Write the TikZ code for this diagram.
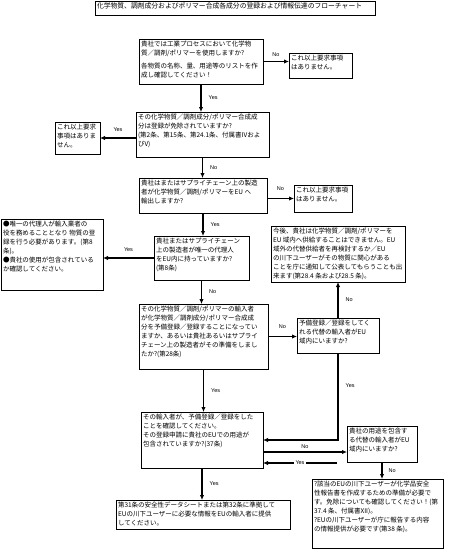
\documentclass[tikz,border=0pt]{standalone}
\usepackage{fontspec}
\newfontfamily\jpfont{Noto Sans CJK JP}
\newfontfamily\labfont{Liberation Sans}
\usetikzlibrary{arrows.meta,shadows}
\newcommand{\boxlines}[3]{\parbox[c][\dimexpr#2-4pt\relax][t]{\dimexpr#1-4pt\relax}{\raggedright#3}}

\begin{document}
\begin{tikzpicture}[x=1pt,y=-1pt,
  qbox/.style={draw,line width=0.7pt,fill=white,inner sep=2pt,outer sep=0pt,anchor=north west,
    font=\jpfont\fontsize{6.5}{9}\selectfont,
    drop shadow={shadow xshift=1pt,shadow yshift=-1pt,opacity=.5}},
  arr/.style={line width=1.3pt,-{Latex[length=5pt,width=4.5pt]}},
  lbl/.style={font=\labfont\fontsize{5.5}{6}\selectfont,inner sep=1pt}]
\useasboundingbox (0,0) rectangle (450,550);

\node[qbox,font=\jpfont\fontsize{6.8}{8}\selectfont] (title) at (95,1)
  {\boxlines{280pt}{14pt}{化学物質、調剤成分およびポリマー合成各成分の登録および情報伝達のフローチャート}};

% main column
\node[qbox] (q1) at (139,39) {\boxlines{124pt}{45pt}{貴社では工業プロセスにおいて化学物\\
  質／調剤/ポリマーを使用しますか?\\[4pt]
  各物質の名称、量、用途等のリストを作\\成し確認してください！}};
\node[qbox] (q2) at (136,112) {\boxlines{133pt}{45pt}{その化学物質／調剤成分/ポリマー合成成\\
  分は登録が免除されていますか?\\(第2条、第15条、第24.1条、付属書IVおよ\\びV)}};
\node[qbox] (q3) at (139,178) {\boxlines{128pt}{35pt}{貴社はまたはサプライチェーン上の製造\\
  者が化学物質／調剤/ポリマーをEU へ\\輸出しますか?}};
\node[qbox] (q4) at (154,236) {\boxlines{95pt}{44pt}{貴社またはサプライチェーン\\
  上の製造者が唯一の代理人\\をEU内に持っていますか?\\(第8条)}};
\node[qbox] (q5) at (139,304) {\boxlines{129pt}{65pt}{その化学物質／調剤/ポリマーの輸入者\\
  が化学物質／調剤成分/ポリマー合成成\\分を予備登録／登録することになってい\\
  ますか、あるいは貴社あるいはサプライ\\チェーン上の製造者がその準備をしまし\\たか?(第28条)}};
\node[qbox] (q7) at (141,412) {\boxlines{122pt}{56pt}{その輸入者が、予備登録／登録をした\\
  ことを確認してください。\\その登録申請に貴社のEUでの用途が\\包含されていますか?(37条)}};
\node[qbox] (q9) at (116,500) {\boxlines{174pt}{29pt}{第31条の安全性データシートまたは第32条に準拠して\\
  EUの川下ユーザーに必要な情報をEUの輸入者に提供\\してください。}};

% side boxes
\node[qbox] (n1) at (289,53) {\boxlines{63pt}{25pt}{これ以上要求事項\\はありません。}};
\node[qbox] (n2) at (55,122) {\boxlines{45pt}{32pt}{これ以上要求\\事項はありま\\せん。}};
\node[qbox] (n3) at (294,185) {\boxlines{58pt}{27pt}{これ以上要求事項\\はありません。}};
\node[qbox] (l4) at (1,219) {\boxlines{102pt}{71pt}{●唯一の代理人が輸入業者の\\
  役を務めることとなり 物質の登\\録を行う必要があります。(第8\\条)。\\
  ●貴社の使用が包含されている\\か確認してください。}};
\node[qbox] (r4) at (271,226) {\boxlines{134pt}{56pt}{今後、貴社は化学物質／調剤/ポリマーを\\
  EU 域内へ供給することはできません。EU\\域外の代替供給者を再検討するか／EU\\
  の川下ユーザーがその物質に関心がある\\ことを庁に通知して公表してもらうことも出\\
  来ます(第28.4 条および28.5 条)。}};
\node[qbox] (q6) at (297,318) {\boxlines{82pt}{35pt}{予備登録／登録をしてく\\
  れる代替の輸入者がEU\\域内にいますか?}};
\node[qbox] (q8) at (347,426) {\boxlines{70pt}{36pt}{貴社の用途を包含す\\
  る代替の輸入者がEU\\域内にいますか?}};
\node[qbox] (q10) at (312,479) {\boxlines{131pt}{69pt}{?該当のEUの川下ユーザーが化学品安全\\
  性報告書を作成するための準備が必要で\\す。免除についても確認してください！(第\\
  37.4 条、付属書XII)。\\?EUの川下ユーザーが庁に報告する内容\\の情報提供が必要です(第38 条)。}};

% connectors
\draw[arr] (q1.east) -- (q1.east -| n1.west) node[lbl,midway,above=3pt]{No};
\draw[arr] (q1.south) -- (q1.south |- q2.north) node[lbl,midway,right=6pt]{Yes};
\draw[arr] (q2.west |- n2.east) -- (n2.east) node[lbl,midway,above=5pt]{Yes};
\draw[arr] (q2.south) -- (q2.south |- q3.north) node[lbl,midway,right=6pt]{No};
\draw[arr] (q3.east |- n3.west) -- (n3.west) node[lbl,midway,above=6pt]{No};
\draw[arr] (q3.south) -- (q3.south |- q4.north) node[lbl,midway,right=6pt]{Yes};
\draw[arr] (q4.west) -- (q4.west -| l4.east) node[lbl,midway,above=5pt]{Yes};
\draw[arr] (q4.south) -- (q4.south |- q5.north) node[lbl,midway,right=6pt]{No};
\draw[arr] (q5.east) -- (q5.east -| q6.west) node[lbl,midway,above=6pt]{No};
\draw[arr] (q6.north) -- (q6.north |- r4.south) node[lbl,midway,right=6pt]{No};
\draw[arr] (q6.south) |- (q7.east) node[lbl,pos=0.19,right=6pt]{Yes};
\draw[arr] (q5.south) -- (q5.south |- q7.north) node[lbl,midway,right=6pt]{Yes};
\draw[arr] ([yshift=-12pt]q7.east) -- ([yshift=-12pt]q7.east -| q8.west) node[lbl,midway,above=2pt]{No};
\coordinate (yesq8) at (337,463);
\draw[arr] (yesq8) -- (yesq8 -| q7.east) node[lbl,midway,fill=white,inner sep=2pt]{Yes};
\draw[arr] (q8.south) -- (q8.south |- q10.north) node[lbl,midway,right=5pt]{No};
\draw[arr] (q7.south) -- (q7.south |- q9.north) node[lbl,midway,right=6pt]{Yes};
\end{tikzpicture}
\end{document}
